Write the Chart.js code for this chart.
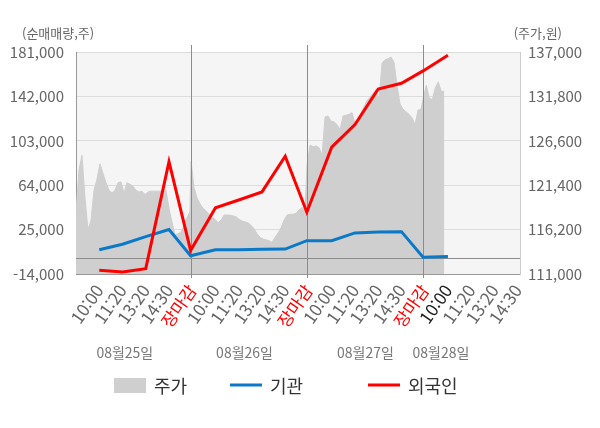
<!DOCTYPE html>
<html lang="ko">
<head>
<meta charset="utf-8">
<title>순매매량 / 주가</title>
<script src="https://cdn.jsdelivr.net/npm/chart.js@4.4.1/dist/chart.umd.min.js"></script>
<style>
    html, body { margin: 0; padding: 0; background: #fff; }
    #wrap { width: 600px; height: 428px; position: relative; }
</style>
</head>
<body>
<div id="wrap"><canvas id="flowChart"></canvas></div>
<script>
// x축 라벨 (하루 5칸, 마지막 날은 14:30 까지)
const timeLabels = ['10:00', '11:20', '13:20', '14:30', '장마감',
    '10:00', '11:20', '13:20', '14:30', '장마감',
    '10:00', '11:20', '13:20', '14:30', '장마감',
    '10:00', '11:20', '13:20', '14:30'];
const dateLabels = ['08월25일', '08월26일', '08월27일', '08월28일'];

// 순매매량 (기관 / 외국인) - 라벨 위치 기준
const flowX = [0, 1, 2, 3, 3.93, 5, 6, 7, 8, 8.93, 10, 11, 12, 13, 13.93, 15];
const instFlow = [7300, 12100, 18800, 25000, 2000, 7300, 7300, 7700, 7900, 15300, 15300, 22100, 23000, 23200, 800, 1300];
const foreignFlow = [-10700, -12200, -9300, 84700, 6700, 44200, 51000, 58100, 89400, 40300, 97400, 117200, 148500, 153500, 164400, 178100];

// 주가 (일자별, 같은 간격으로 샘플)
const dayStart = [-1.0, 3.95, 8.94, 13.94];
const sampleStep = 0.129;
const day1Price = [118200, 123200, 124900, 119900, 116200, 117300, 120800, 122100, 123900, 122800,
    121700, 120800, 120500, 120800, 121700, 121800, 120500, 121700, 121500, 121300,
    120800, 120600, 120700, 120300, 120600, 120700, 120700, 120700, 120700, 120800,
    120800, 118700, 117100, 115600, 115700, 115900, 116700, 117600, 118300];
const day2Price = [124200, 121100, 119900, 119200, 118700, 118400, 118000, 117700, 117400, 117000,
    117300, 117900, 117900, 117900, 117800, 117700, 117400, 117200, 117100, 117000,
    116700, 116300, 115700, 115300, 115100, 115000, 114900, 114700, 115300, 115800,
    116400, 117300, 117900, 118000, 118000, 118100, 118500, 118800, 118500];
const day3Price = [123800, 126100, 125900, 126000, 125800, 124900, 129400, 129500, 128900, 128800,
    128500, 127900, 129500, 129600, 129700, 129900, 128600, 129000, 129900, 130600,
    131300, 131700, 132200, 132600, 131400, 135700, 136100, 136200, 136400, 135800,
    133100, 130900, 130300, 130000, 129700, 129300, 128500, 130200, 130300];
const day4Price = [131600, 133100, 131600, 131400, 132800, 133500, 132400, 132400];

// 축 눈금
const flowTicks = [-14000, 25000, 64000, 103000, 142000, 181000];
const priceTicks = [111000, 116200, 121400, 126600, 131800, 137000];

const FONT = '"Noto Sans CJK KR", "Noto Sans", sans-serif';
const RED = '#ff0000';
const BLUE = '#0a7ac8';
const AREA = '#cfcfcf';

const buildPriceSeries = () => {
    const points = [];
    [day1Price, day2Price, day3Price, day4Price].forEach((prices, d) => {
        prices.forEach((p, i) => points.push({x: dayStart[d] + i * sampleStep, y: p}));
    });
    return points;
};

const toPoints = (values) => values.map((v, i) => ({x: flowX[i], y: v}));
const closeX = [flowX[4], flowX[9], flowX[14]];
const dateX = [1.1, 6.25, 11.45, 14.7];

const decorPlugin = {
    id: 'decor',
    beforeDraw: (chart) => {
        const {ctx, chartArea: a} = chart;
        ctx.save();
        ctx.fillStyle = '#f5f5f5';
        ctx.fillRect(a.left, a.top, a.right - a.left, a.bottom - a.top);
        ctx.restore();
    },
    afterDatasetDraw: (chart, args) => {
        if (args.index !== 0) return;
        const {ctx, chartArea: a, scales} = chart;
        ctx.save();
        ctx.strokeStyle = '#8c8c8c';
        ctx.lineWidth = 1;
        const zy = Math.round(scales.y.getPixelForValue(0)) + 0.5;
        ctx.beginPath();
        ctx.moveTo(a.left, zy);
        ctx.lineTo(a.right, zy);
        ctx.stroke();
        closeX.forEach((cx) => {
            const px = Math.round(scales.x.getPixelForValue(cx)) + 0.5;
            ctx.beginPath();
            ctx.moveTo(px, a.top - 7);
            ctx.lineTo(px, a.bottom + 4);
            ctx.stroke();
        });
        ctx.restore();
    },
    afterDraw: (chart) => {
        const {ctx, scales} = chart;
        ctx.save();
        // 축 제목
        ctx.fillStyle = '#666';
        ctx.font = '13px ' + FONT;
        ctx.textBaseline = 'middle';
        ctx.textAlign = 'left';
        ctx.fillText('(순매매량,주)', 22, 33);
        ctx.textAlign = 'right';
        ctx.fillText('(주가,원)', 562, 33);

        // 날짜
        ctx.fillStyle = '#777';
        ctx.font = '14px ' + FONT;
        ctx.textAlign = 'center';
        dateLabels.forEach((d, i) => {
            ctx.fillText(d, scales.x.getPixelForValue(dateX[i]), 353);
        });

        // 범례
        const items = [
            {label: '주가', kind: 'box', color: AREA, x: 114},
            {label: '기관', kind: 'line', color: BLUE, x: 230},
            {label: '외국인', kind: 'line', color: RED, x: 368},
        ];
        const ly = 385;
        ctx.font = '18px ' + FONT;
        ctx.textAlign = 'left';
        items.forEach((it) => {
            if (it.kind === 'box') {
                ctx.fillStyle = it.color;
                ctx.fillRect(it.x, ly - 7, 32, 15);
            } else {
                ctx.strokeStyle = it.color;
                ctx.lineWidth = 3;
                ctx.beginPath();
                ctx.moveTo(it.x, ly);
                ctx.lineTo(it.x + 32, ly);
                ctx.stroke();
            }
            ctx.fillStyle = '#333';
            ctx.fillText(it.label, it.x + 40, ly + 1);
        });
        ctx.restore();
    }
};

window.addEventListener('load', () => {
    Chart.defaults.font.family = FONT;
    Chart.defaults.animation = false;

    const ctx = document.getElementById('flowChart');
    new Chart(ctx, {
        type: 'line',
        data: {
            datasets: [{
                label: '주가',
                data: buildPriceSeries(),
                yAxisID: 'y2',
                fill: 'start',
                backgroundColor: AREA,
                borderColor: AREA,
                borderWidth: 1,
                pointRadius: 0,
                tension: 0,
                order: 3
            }, {
                label: '기관',
                data: toPoints(instFlow),
                yAxisID: 'y',
                fill: false,
                borderColor: BLUE,
                borderWidth: 3,
                pointRadius: 0,
                tension: 0,
                order: 2
            }, {
                label: '외국인',
                data: toPoints(foreignFlow),
                yAxisID: 'y',
                fill: false,
                borderColor: RED,
                borderWidth: 3,
                pointRadius: 0,
                tension: 0,
                order: 1
            }]
        },
        options: {
            responsive: true,
            maintainAspectRatio: false,
            layout: {padding: {top: 52, left: 0, right: 0, bottom: 0}},
            plugins: {
                legend: {display: false},
                tooltip: {enabled: false}
            },
            scales: {
                x: {
                    type: 'linear',
                    min: -1,
                    max: 18.1,
                    afterBuildTicks: (scale) => {
                        scale.ticks = timeLabels.map((_, i) => ({value: i}));
                    },
                    afterFit: (scale) => { scale.height = 154; },
                    grid: {display: false, drawTicks: false},
                    border: {display: true, color: '#999'},
                    ticks: {
                        autoSkip: false,
                        minRotation: 55,
                        maxRotation: 55,
                        padding: 7,
                        font: {size: 17},
                        color: (c) => {
                            if (timeLabels[c.index] === '장마감') return RED;
                            return c.index === 15 ? '#222' : '#666';
                        },
                        callback: (v, i) => timeLabels[i]
                    }
                },
                y: {
                    position: 'left',
                    min: flowTicks[0],
                    max: flowTicks[flowTicks.length - 1],
                    afterBuildTicks: (scale) => {
                        scale.ticks = flowTicks.map((v) => ({value: v}));
                    },
                    afterFit: (scale) => { scale.width = 76; },
                    grid: {color: '#dcdcdc', drawTicks: false},
                    border: {color: '#999'},
                    ticks: {
                        padding: 12,
                        font: {size: 15},
                        color: '#666',
                        callback: (v) => v.toLocaleString('en-US')
                    }
                },
                y2: {
                    position: 'right',
                    min: priceTicks[0],
                    max: priceTicks[priceTicks.length - 1],
                    afterBuildTicks: (scale) => {
                        scale.ticks = priceTicks.map((v) => ({value: v}));
                    },
                    afterFit: (scale) => { scale.width = 80; },
                    grid: {display: false, drawTicks: false},
                    border: {color: '#ccc'},
                    ticks: {
                        padding: 8,
                        font: {size: 15},
                        color: '#666',
                        callback: (v) => v.toLocaleString('en-US')
                    }
                }
            }
        },
        plugins: [decorPlugin]
    });
});
</script>
</body>
</html>
